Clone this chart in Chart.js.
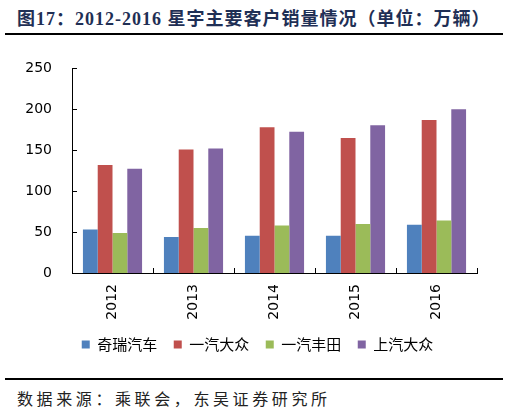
<!DOCTYPE html>
<html>
<head>
<meta charset="utf-8">
<script src="https://cdn.jsdelivr.net/npm/chart.js@4.4.1/dist/chart.umd.min.js"></script>
<style>
body { margin: 0; width: 510px; height: 414px; background: #fff; position: relative; overflow: hidden; }
#titulo { position: absolute; left: 17px; top: 4px; font: bold 18px "Liberation Serif", "Noto Sans CJK SC"; color: #1f2f55; letter-spacing: 1px; white-space: nowrap; }
.linea { position: absolute; left: 5px; width: 498px; background: #000; }
#fuente { position: absolute; left: 17px; top: 386px; font: 16px "Noto Sans CJK SC"; color: #222; letter-spacing: 3.6px; white-space: nowrap; }
#contenedor { position: absolute; left: 0; top: 40px; width: 510px; height: 330px; }
</style>
</head>
<body>
<div id="titulo">图17：2012-2016 星宇主要客户销量情况（单位：万辆）</div>
<div class="linea" style="top:33px;height:2px"></div>
<div id="contenedor"><canvas id="myChart"></canvas></div>
<div class="linea" style="top:378px;height:1.5px"></div>
<div id="fuente">数据来源：乘联会，东吴证券研究所</div>
<script>
// datos (万辆)
const categorias = ['2012', '2013', '2014', '2015', '2016'];
const nombresSeries = ['奇瑞汽车', '一汽大众', '一汽丰田', '上汽大众'];
const valoresChery = [53, 44, 45.5, 45.5, 59];
const valoresFawVw = [132, 151, 178, 165, 187];
const valoresFawToyota = [49, 55, 58, 60, 64];
const valoresSaicVw = [127.5, 152, 172.5, 180.5, 200];
const ticksY = [0, 50, 100, 150, 200, 250];

const colores = ['#4f81bd', '#c0504d', '#9bbb59', '#8064a2'];

// marcas cortas hacia dentro en ambos ejes
const marcasInternas = {
    id: 'marcasInternas',
    afterDraw(chart) {
        const { ctx, chartArea, scales } = chart;
        ctx.save();
        ctx.strokeStyle = '#000';
        ctx.lineWidth = 1;
        ctx.beginPath();
        ticksY.forEach(v => {
            const py = Math.round(scales.y.getPixelForValue(v)) + 0.5;
            ctx.moveTo(chartArea.left, py);
            ctx.lineTo(chartArea.left + 5, py);
        });
        for (let i = 0; i <= categorias.length; i++) {
            const px = Math.round(scales.x.getPixelForValue(i - 0.5)) + 0.5;
            ctx.moveTo(px, chartArea.bottom);
            ctx.lineTo(px, chartArea.bottom - 5);
        }
        ctx.stroke();
        ctx.restore();
    }
};

const series = [valoresChery, valoresFawVw, valoresFawToyota, valoresSaicVw];

document.addEventListener("DOMContentLoaded", () => {
    const ctx = document.getElementById('myChart').getContext('2d');
    new Chart(ctx, {
        type: 'bar',
        data: {
            labels: categorias,
            datasets: series.map((valores, i) => ({
                label: nombresSeries[i],
                data: valores,
                backgroundColor: colores[i],
                borderWidth: 0,
                categoryPercentage: 0.73,
                barPercentage: 1
            }))
        },
        options: {
            responsive: true,
            maintainAspectRatio: false,
            animation: false,
            layout: { padding: { top: 26, right: 0, left: 5, bottom: 8 } },
            plugins: {
                tooltip: { enabled: false },
                legend: {
                    position: 'bottom',
                    labels: {
                        boxWidth: 8,
                        boxHeight: 8,
                        padding: 16.5,
                        color: '#000',
                        font: { family: 'Noto Sans CJK SC', size: 15 }
                    }
                }
            },
            scales: {
                x: {
                    grid: { display: false, drawTicks: false },
                    border: { display: true, color: '#000', width: 1 },
                    ticks: {
                        color: '#000',
                        minRotation: 90,
                        maxRotation: 90,
                        padding: 11,
                        font: { family: 'DejaVu Sans', size: 14 }
                    },
                    afterFit: s => { s.height = 47.5; }
                },
                y: {
                    min: 0,
                    max: 250,
                    grid: { display: false, drawTicks: false },
                    border: { display: true, color: '#000', width: 1 },
                    ticks: {
                        stepSize: 50,
                        color: '#000',
                        padding: 20,
                        font: { family: 'DejaVu Sans', size: 14 }
                    },
                    afterFit: s => { s.width = 67; }
                },
                // eje vacio a la derecha solo para reservar margen
                margenDerecho: {
                    position: 'right',
                    type: 'linear',
                    grid: { display: false, drawTicks: false },
                    border: { display: false },
                    ticks: { display: false },
                    afterFit: s => { s.width = 33; }
                }
            }
        },
        plugins: [marcasInternas]
    });
});
</script>
</body>
</html>
